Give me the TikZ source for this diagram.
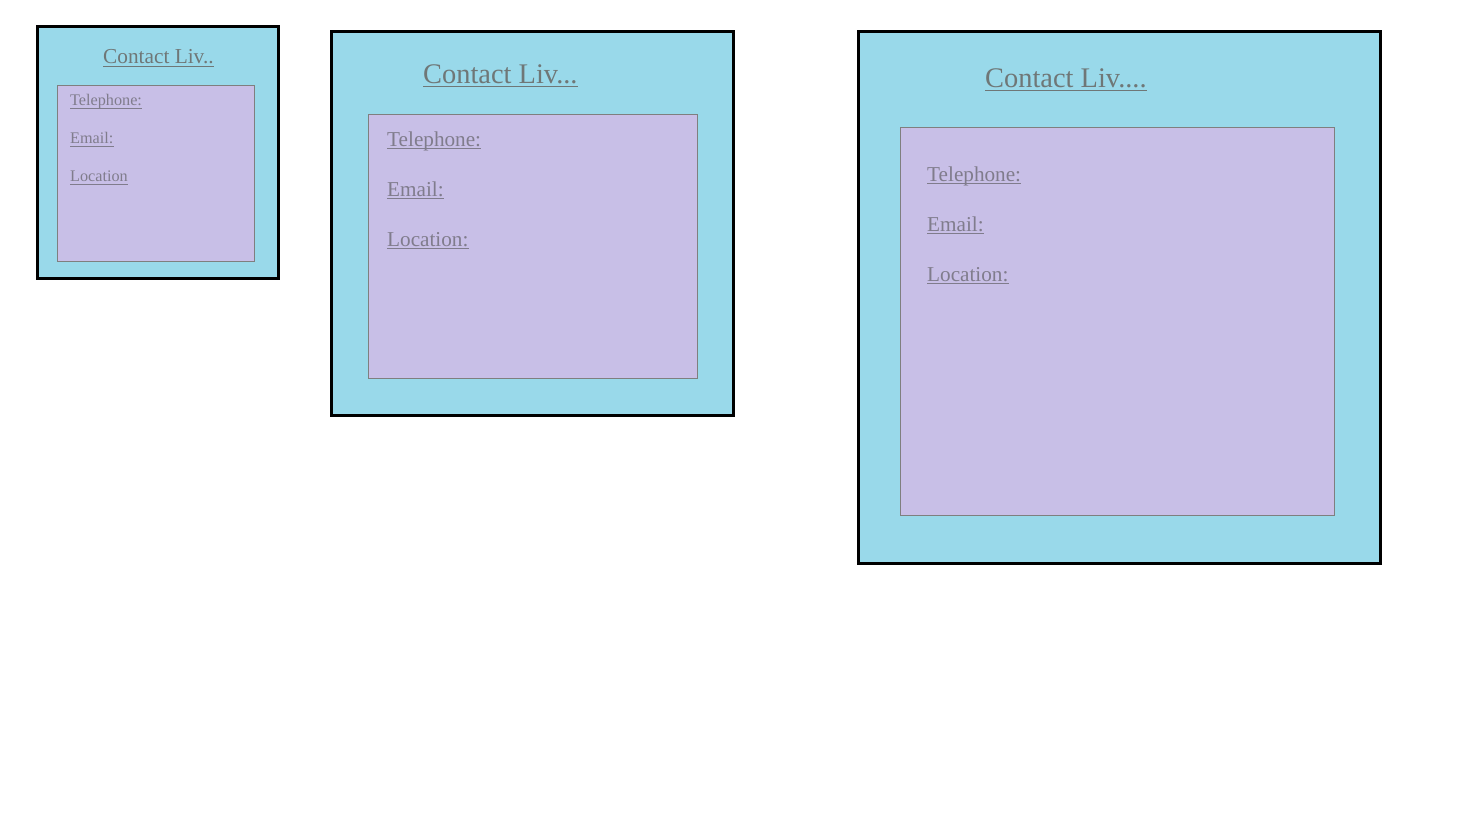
\documentclass[tikz,border=0pt]{standalone}
\usepackage{fontspec}
\setmainfont{Liberation Serif}
\definecolor{outerfill}{HTML}{99D9EA}
\definecolor{innerfill}{HTML}{C8BFE7}
\definecolor{innerline}{HTML}{7F7F7F}
\definecolor{titlecol}{HTML}{6F7777}
\definecolor{itemcol}{HTML}{807C8C}
\begin{document}
\begin{tikzpicture}[x=1pt,y=-1pt,
  outerbox/.style={draw=black,line width=3pt,fill=outerfill},
  innerbox/.style={draw=innerline,line width=0.8pt,fill=innerfill},
  ttl/.style={anchor=base west,inner sep=0pt,text=titlecol},
  itm/.style={anchor=base west,inner sep=0pt,text=itemcol},
  uline/.style={line width=1pt}]
\useasboundingbox[fill=white] (0,0) rectangle (1464,820);
% box 1
\draw[outerbox] (37.5,26.5) rectangle (278.5,278.5);
\draw[innerbox] (57,85) rectangle (254,261);
\node[ttl,font=\fontsize{21.3}{24}\selectfont] (t1) at (103,63.5) {Contact Liv..};
\node[itm,font=\fontsize{16.2}{18}\selectfont] (a1) at (70,105.5) {Telephone:};
\node[itm,font=\fontsize{16.2}{18}\selectfont] (b1) at (70,143.5) {Email:};
\node[itm,font=\fontsize{16.2}{18}\selectfont] (c1) at (70,181.5) {Location};
% box 2
\draw[outerbox] (331.5,31.5) rectangle (733.5,415.5);
\draw[innerbox] (368,114) rectangle (697,378);
\node[ttl,font=\fontsize{28.4}{32}\selectfont] (t2) at (423,83.5) {Contact Liv...};
\node[itm,font=\fontsize{21.2}{24}\selectfont] (a2) at (387,146) {Telephone:};
\node[itm,font=\fontsize{21.2}{24}\selectfont] (b2) at (387,196) {Email:};
\node[itm,font=\fontsize{21.2}{24}\selectfont] (c2) at (387,246) {Location:};
% box 3
\draw[outerbox] (858.5,31.5) rectangle (1380.5,563.5);
\draw[innerbox] (900,127) rectangle (1334,515);
\node[ttl,font=\fontsize{28.4}{32}\selectfont] (t3) at (985,87.5) {Contact Liv....};
\node[itm,font=\fontsize{21.2}{24}\selectfont] (a3) at (927,181) {Telephone:};
\node[itm,font=\fontsize{21.2}{24}\selectfont] (b3) at (927,231) {Email:};
\node[itm,font=\fontsize{21.2}{24}\selectfont] (c3) at (927,281) {Location:};
% underlines
\foreach \n in {t1,t2,t3}
  \draw[uline,titlecol] ([yshift=-3pt]\n.base west) -- ([yshift=-3pt]\n.base east);
\foreach \n in {a1,b1,c1,a2,b2,c2,a3,b3,c3}
  \draw[uline,itemcol] ([yshift=-2.5pt]\n.base west) -- ([yshift=-2.5pt]\n.base east);
\end{tikzpicture}
\end{document}
